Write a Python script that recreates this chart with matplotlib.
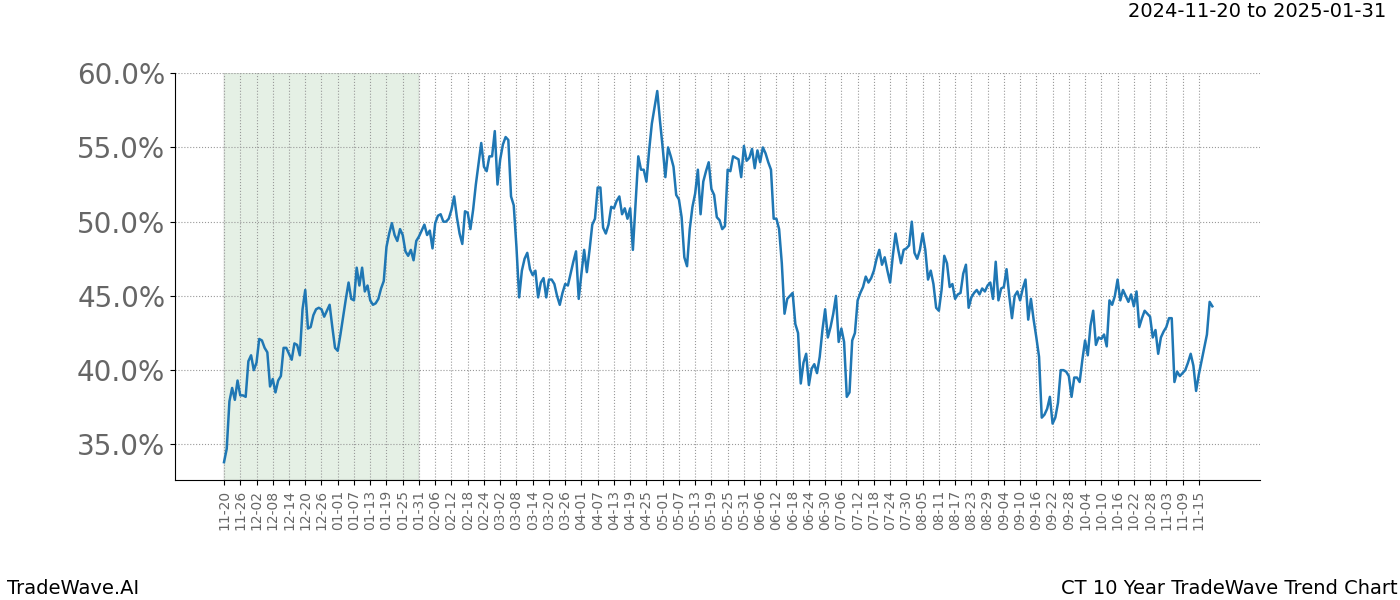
import matplotlib
matplotlib.use("Agg")
import matplotlib.pyplot as plt
import matplotlib.dates as mdates
import matplotlib.ticker as mticker
import pandas as pd

# trend values, one per day from 2024-11-20 (percent)
start = "2024-11-20"
values = [
    33.8, 34.7, 37.9, 38.8, 38.0, 39.3, 38.3, 38.3, 38.2, 40.6,
    41.0, 40.0, 40.5, 42.1, 42.0, 41.5, 41.2, 38.9, 39.4, 38.5,
    39.3, 39.6, 41.5, 41.5, 41.1, 40.7, 41.8, 41.7, 41.0, 44.1,
    45.4, 42.8, 42.9, 43.7, 44.1, 44.2, 44.1, 43.6, 44.0, 44.4,
    42.9, 41.5, 41.3, 42.4, 43.6, 44.8, 45.9, 44.8, 44.7, 46.9,
    45.7, 46.9, 45.3, 45.7, 44.7, 44.4, 44.5, 44.8, 45.5, 46.0,
    48.3, 49.2, 49.9, 49.1, 48.7, 49.5, 49.1, 48.0, 47.7, 48.1,
    47.4, 48.7,
    49.0, 49.4, 49.8, 49.1, 49.4, 48.2, 49.9, 50.4, 50.5, 50.0,
    50.0, 50.2, 50.8, 51.7, 50.3, 49.2, 48.5, 50.7, 50.6, 49.5,
    50.8, 52.5, 53.9, 55.3, 53.7, 53.4, 54.4, 54.4, 56.1, 52.5,
    54.2, 55.2, 55.7, 55.5, 51.7, 51.1, 48.3, 44.9, 46.7, 47.5,
    47.9, 46.8, 46.4, 46.7, 44.9, 45.9, 46.2, 44.9, 46.1, 46.1,
    45.8, 45.0, 44.4, 45.2, 45.8, 45.7, 46.5, 47.3, 48.0, 44.8,
    46.5, 48.1, 46.6, 48.1, 49.8, 50.2, 52.3, 52.3, 49.6, 49.2,
    49.8, 51.0,
    50.9, 51.4, 51.7, 50.5, 50.9, 50.2, 50.9, 48.1, 51.2, 54.4,
    53.5, 53.5, 52.7, 54.8, 56.6, 57.7, 58.8, 56.8, 55.0, 53.0,
    55.0, 54.4, 53.7, 51.8, 51.5, 50.3, 47.6, 47.0, 49.5, 51.0,
    51.9, 53.5, 50.5, 52.7, 53.4, 54.0, 52.2, 51.8, 50.3, 50.1,
    49.5, 49.7, 53.5, 53.4, 54.4, 54.3, 54.2, 53.0, 55.1, 54.1,
    54.3, 54.9, 53.6, 54.8, 54.0, 55.0, 54.6, 54.0, 53.5, 50.2,
    50.2, 49.5, 47.2, 43.8, 44.8, 45.0, 45.2, 43.1, 42.5, 39.1,
    40.5, 41.1, 39.0,
    40.1, 40.4, 39.8, 40.9, 42.7, 44.1, 42.2, 42.9, 43.8, 45.0,
    41.9, 42.8, 41.9, 38.2, 38.5, 42.0, 42.5, 44.7, 45.2, 45.6,
    46.3, 45.9, 46.2, 46.7, 47.5, 48.1, 47.1, 47.6, 46.7, 45.9,
    47.7, 49.2, 48.1, 47.2, 48.1, 48.2, 48.4, 50.0, 47.9, 47.5,
    48.1, 49.2, 48.1, 46.1, 46.7, 45.8, 44.2, 44.0, 45.4, 47.7,
    47.2, 45.6, 45.8, 44.8, 45.1, 45.2, 46.5, 47.1, 44.2, 44.9,
    45.2, 45.4, 45.1, 45.5, 45.3, 45.7, 45.9, 44.8, 47.3, 44.7,
    45.5, 45.6,
    46.8, 45.0, 43.5, 45.0, 45.3, 44.7, 45.5, 46.1, 43.4, 44.8,
    43.4, 42.2, 40.9, 36.8, 37.0, 37.4, 38.2, 36.4, 36.8, 37.8,
    40.0, 40.0, 39.9, 39.6, 38.2, 39.5, 39.5, 39.2, 40.7, 42.0,
    41.0, 43.0, 44.0, 41.7, 42.2, 42.1, 42.4, 41.6, 44.7, 44.4,
    45.0, 46.1, 44.7, 45.4, 45.0, 44.6, 45.1, 44.3, 45.3, 42.9,
    43.5, 44.0, 43.8, 43.6, 42.2, 42.7, 41.1, 42.2, 42.6, 42.9,
    43.5, 43.5, 39.2, 39.9, 39.6, 39.8, 40.0, 40.5, 41.1, 40.3,
    38.6, 39.7, 40.6, 41.5, 42.4, 44.6, 44.3,
]
highlight_start = "2024-11-20"
highlight_end = "2025-01-31"
tick_start = "2024-11-20"
tick_end = "2025-11-15"

dates = pd.date_range(start, periods=len(values), freq="D")
ticks = pd.date_range(tick_start, tick_end, freq="6D")

fig = plt.figure(figsize=(14, 6), dpi=100)
ax = fig.add_axes([0.125, 0.2, 0.775, 0.678])

ax.axvspan(pd.Timestamp(highlight_start), pd.Timestamp(highlight_end),
           facecolor="#2e8b2e", alpha=0.12, edgecolor="#999999", linewidth=1.5)
ax.plot(dates, values, color="#1f77b4", linewidth=1.8)

ax.set_xlim(pd.Timestamp(start) - pd.Timedelta(days=18.1),
            pd.Timestamp(start) + pd.Timedelta(days=382.6))
ax.set_ylim(32.6, 60.0)

ax.set_xticks(ticks)
ax.xaxis.set_major_formatter(mdates.DateFormatter("%m-%d"))
ax.set_yticks([35, 40, 45, 50, 55, 60])
ax.yaxis.set_major_formatter(mticker.FuncFormatter(lambda v, p: f"{v:.1f}%"))
plt.setp(ax.get_xticklabels(), rotation=90, fontsize=10, color="#666666")
plt.setp(ax.get_yticklabels(), fontsize=20, color="#666666")

ax.grid(True, color="#999999", linestyle=":", linewidth=0.8)
ax.spines["top"].set_visible(False)
ax.spines["right"].set_visible(False)

fig.text(0.99, 0.965, "2024-11-20 to 2025-01-31", ha="right", va="bottom", fontsize=14)
fig.text(0.005, 0.004, "TradeWave.AI", ha="left", va="bottom", fontsize=14)
fig.text(0.998, 0.004, "CT 10 Year TradeWave Trend Chart", ha="right", va="bottom", fontsize=14)

fig.savefig("out.png", dpi=100)
